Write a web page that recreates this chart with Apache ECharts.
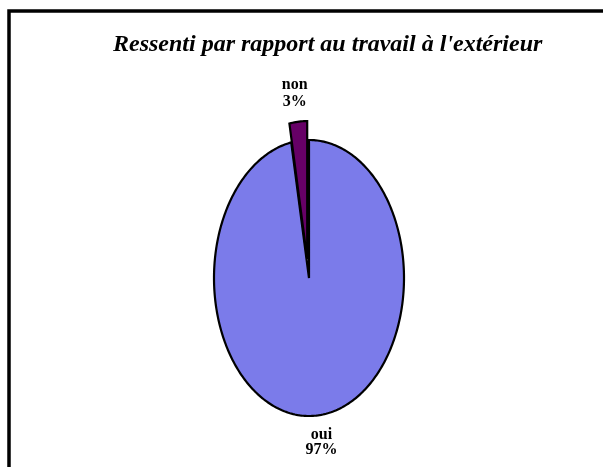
<!DOCTYPE html>
<html>
<head>
<meta charset="utf-8">
<script src="https://cdn.jsdelivr.net/npm/echarts@6/dist/echarts.min.js"></script>
<style>
  html, body { margin: 0; padding: 0; background: #fff; }
  #chart { width: 603px; height: 467px; }
</style>
</head>
<body>
<div id="chart"></div>
<script>
// ---- data ----
const chartTitle = "Ressenti par rapport au travail à l'extérieur";
const categories = ['oui', 'non'];
const values = [97, 3];
const percentLabels = ['97%', '3%'];

// ---- styling / layout ----
const sliceColors = ['#7b7bea', '#660066'];
const explodeDist = [0, 19];
const center = [309, 278];
const radii = [95, 138];
const labelFont = 'bold 16px "Liberation Serif", "Times New Roman", serif';

const total = values.reduce((a, b) => a + b, 0);

function renderItem(params, api) {
  const i = params.dataIndex;
  const cx = center[0], cy = center[1], rx = radii[0], ry = radii[1];
  let start = 0;
  for (let k = 0; k < i; k++) start += values[k];
  const v = api.value(0);
  const a0 = start / total * 2 * Math.PI;
  const a1 = (start + v) / total * 2 * Math.PI;
  const mid = (a0 + a1) / 2;
  const off = explodeDist[i];
  const ox = Math.sin(mid) * off, oy = -Math.cos(mid) * off;
  const pts = [[cx + ox, cy + oy]];
  const n = Math.max(4, Math.ceil((a1 - a0) / (Math.PI / 180)));
  for (let s = 0; s <= n; s++) {
    const a = a0 + (a1 - a0) * s / n;
    pts.push([cx + ox + rx * Math.sin(a), cy + oy - ry * Math.cos(a)]);
  }
  const ex = cx + ox + 1.4 * rx * Math.sin(mid);
  const ey = cy + oy - ry * Math.cos(mid);
  const up = Math.cos(mid) > 0;
  return {
    type: 'group',
    children: [
      {
        type: 'polygon',
        shape: { points: pts },
        style: { fill: sliceColors[i], stroke: '#000', lineWidth: 2.2, lineJoin: 'miter' }
      },
      {
        type: 'text',
        x: ex,
        y: up ? ey - 11 : ey + 12,
        style: {
          text: categories[i] + '\n' + percentLabels[i],
          align: 'center',
          verticalAlign: up ? 'bottom' : 'top',
          font: labelFont,
          lineHeight: up ? 17 : 15,
          fill: '#000'
        }
      }
    ]
  };
}

const chart = echarts.init(document.getElementById('chart'), null, { renderer: 'canvas' });
chart.setOption({
  backgroundColor: '#ffffff',
  animation: false,
  title: {
    text: chartTitle,
    left: 108,
    top: 28,
    textStyle: {
      fontFamily: '"Liberation Serif", "Times New Roman", serif',
      fontStyle: 'italic',
      fontWeight: 'bold',
      fontSize: 24,
      color: '#000'
    }
  },
  graphic: [
    {
      type: 'rect',
      shape: { x: 9, y: 11, width: 700, height: 600 },
      style: { fill: 'none', stroke: '#000', lineWidth: 3.5 },
      z: -1
    }
  ],
  series: [
    {
      type: 'custom',
      coordinateSystem: 'none',
      renderItem: renderItem,
      data: values.map((v, i) => ({ name: categories[i], value: v }))
    }
  ]
});
</script>
</body>
</html>
